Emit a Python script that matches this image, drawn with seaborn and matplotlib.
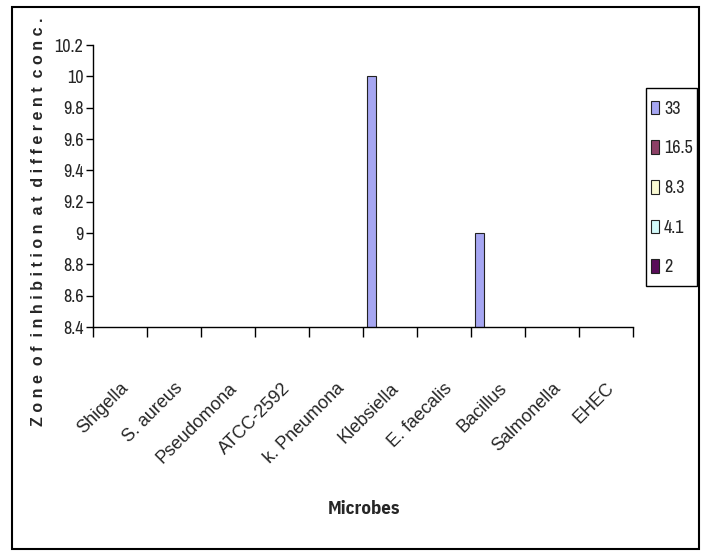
import matplotlib
matplotlib.use("Agg")
import matplotlib.pyplot as plt
import seaborn as sns
import pandas as pd
from matplotlib.patches import Rectangle
from matplotlib.ticker import FuncFormatter

# ---------------- data ----------------
microbes = ["Shigella", "S. aureus", "Pseudomona", "ATCC-2592", "k. Pneumona",
            "Klebsiella", "E. faecalis", "Bacillus", "Salmonella", "EHEC"]
concentrations = ["33", "16.5", "8.3", "4.1", "2"]
zone_33 = [0, 0, 0, 0, 0, 10, 0, 9, 0, 0]
zone_16_5 = [0, 0, 0, 0, 0, 0, 0, 0, 0, 0]
zone_8_3 = [0, 0, 0, 0, 0, 0, 0, 0, 0, 0]
zone_4_1 = [0, 0, 0, 0, 0, 0, 0, 0, 0, 0]
zone_2 = [0, 0, 0, 0, 0, 0, 0, 0, 0, 0]
y_ticks = [8.4, 8.6, 8.8, 9.0, 9.2, 9.4, 9.6, 9.8, 10.0, 10.2]
series_colors = ["#9999FF", "#993366", "#FFFFCC", "#CCFFFF", "#660066"]

series = [zone_33, zone_16_5, zone_8_3, zone_4_1, zone_2]
rows = []
for conc, vals in zip(concentrations, series):
    for m, v in zip(microbes, vals):
        rows.append({"Microbe": m, "Conc": conc, "Zone": v})
df = pd.DataFrame(rows)

# ---------------- style ----------------
sns.set_style("white")
narrow = ["Archivo Narrow", "Liberation Sans", "DejaVu Sans"]
narrow_bold = ["IBM Plex Sans Condensed", "Archivo Narrow", "Liberation Sans", "DejaVu Sans"]
regular = ["Liberation Sans", "DejaVu Sans"]
plt.rcParams["font.family"] = narrow

fig = plt.figure(figsize=(7.03, 5.52), dpi=100)
ax = fig.add_axes([93 / 703, 1 - 327 / 552, 540 / 703, 282 / 552])

sns.barplot(data=df, x="Microbe", y="Zone", hue="Conc", order=microbes,
            hue_order=concentrations, palette=series_colors, width=0.85,
            edgecolor="#222222", linewidth=0.8, ax=ax, errorbar=None)

handles, labels = ax.get_legend_handles_labels()
if ax.get_legend() is not None:
    ax.get_legend().remove()

ax.set_ylim(8.4, 10.2)
ax.set_xlim(-0.5, 9.5)
ax.set_yticks(y_ticks)
ax.yaxis.set_major_formatter(FuncFormatter(lambda v, p: f"{v:g}"))
for t in ax.get_yticklabels():
    t.set_family(narrow)

for s in ["top", "right"]:
    ax.spines[s].set_visible(False)
for s in ["left", "bottom"]:
    ax.spines[s].set_color("black")
    ax.spines[s].set_linewidth(1.0)

ax.tick_params(axis="y", direction="out", length=5, width=1, color="black",
               labelsize=13, pad=2, left=True)
ax.set_xticks(range(len(microbes)))
ax.set_xticks([i - 0.5 for i in range(len(microbes) + 1)], minor=True)
ax.tick_params(axis="x", which="major", length=0, pad=38, bottom=True)
ax.tick_params(axis="x", which="minor", direction="out", length=7, width=1,
               color="black", bottom=True)
ax.set_xticklabels(microbes, rotation=45, ha="right", va="top",
                   rotation_mode="anchor", fontsize=13, family=regular)

ax.set_xlabel("Microbes", fontsize=13.5, fontweight="bold", family=narrow_bold)
ax.xaxis.set_label_coords((364 - 93) / 540, (327 - 509) / 282)
ax.xaxis.label.set_va("center")

ylab = "Zone of inhibition at different conc."
spaced = "  ".join(" ".join(w) for w in ylab.split(" "))
ax.set_ylabel(spaced, fontsize=11.5, fontweight="bold", family=regular)
ax.yaxis.set_label_coords((39 - 93) / 540, (327 - 222) / 282)
ax.yaxis.label.set_va("center")

# legend box (frame drawn separately to match the reference padding)
fig.patches.append(Rectangle((646 / 703, 1 - 286 / 552), 51 / 703, 198 / 552,
                             transform=fig.transFigure, fill=False,
                             edgecolor="black", linewidth=1.0))
leg = fig.legend(handles, labels, loc="center",
                 bbox_to_anchor=(672 / 703, 1 - 188 / 552), borderaxespad=0,
                 frameon=False, handlelength=0.4, handleheight=0.8,
                 handletextpad=0.3, labelspacing=1.3, borderpad=0.2,
                 prop={"family": narrow, "size": 13})

fig.patches.append(Rectangle((12 / 703, 3 / 552), 687 / 703, 542 / 552,
                             transform=fig.transFigure, fill=False,
                             edgecolor="black", linewidth=1.5))

fig.savefig("out.png", dpi=100)
